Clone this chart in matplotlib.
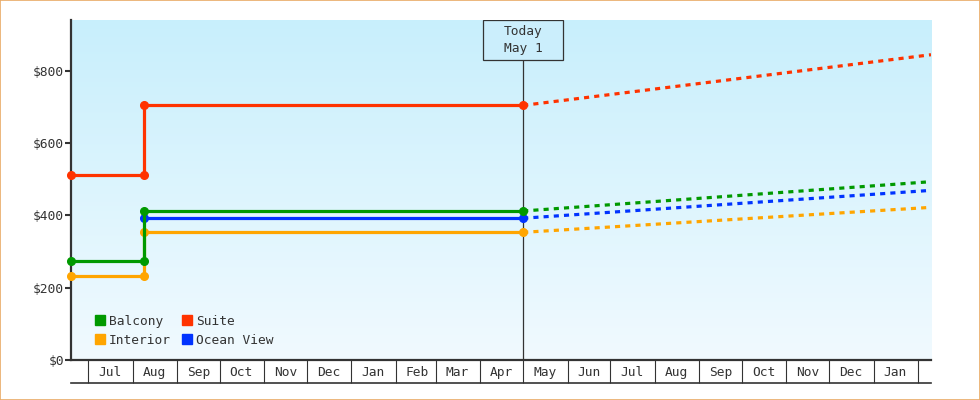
from datetime import date
import numpy as np
import matplotlib
matplotlib.use("Agg")
import matplotlib.pyplot as plt
import matplotlib.dates as mdates
from matplotlib.patches import Rectangle
from matplotlib.lines import Line2D

START = date(2024, 6, 19)
STEP = date(2024, 8, 9)
TODAY = date(2025, 5, 1)
END = date(2026, 2, 10)

hist_dates = [START, STEP, STEP, TODAY]
fc_dates = [TODAY, END]

names = ["Interior", "Ocean View", "Balcony", "Suite"]
colors = {"Balcony": "#009900", "Suite": "#ff3300", "Interior": "#ffa500", "Ocean View": "#0033ff"}
hist = {
    "Balcony": [273, 273, 412, 412],
    "Suite": [511, 511, 704, 704],
    "Interior": [231, 231, 353, 353],
    "Ocean View": [np.nan, np.nan, 392, 392],
}
fc_end = {"Balcony": 493, "Suite": 844, "Interior": 422, "Ocean View": 469}
legend_order = ["Balcony", "Interior", "Suite", "Ocean View"]
yticks = [0, 200, 400, 600, 800]

DARK = "#333333"
FONT = "DejaVu Sans Mono"
FS = 9.3
plt.rcParams["font.family"] = FONT

fig = plt.figure(figsize=(9.8, 4.0), dpi=100)
ax = fig.add_axes([71 / 980, 40 / 400, 860 / 980, 340 / 400])
fig.patches.append(Rectangle((0, 0), 1, 1, transform=fig.transFigure, fill=False,
                             edgecolor="#e9aa66", lw=1.2))

# gradient background
grad = np.linspace(0, 1, 256)[:, None]
top = np.array([200, 239, 252]) / 255
bot = np.array([241, 250, 255]) / 255
img = top[None, None, :] * (1 - grad[:, :, None]) + bot[None, None, :] * grad[:, :, None]
ax.imshow(img, extent=[0, 1, 0, 1], transform=ax.transAxes, aspect="auto", zorder=0)

for k in names:
    ax.plot(hist_dates, hist[k], color=colors[k], lw=2.3, marker="o", ms=5.5,
            zorder=3, clip_on=False)
    ax.plot(fc_dates, [hist[k][-1], fc_end[k]], color=colors[k], lw=2.3,
            ls=(0, (1.6, 1.6)), zorder=3)

ax.set_xlim(START, END)
ax.set_ylim(0, 940)

ax.axvline(TODAY, color=DARK, lw=0.9, zorder=2)
fx = (mdates.date2num(TODAY) - mdates.date2num(START)) / (mdates.date2num(END) - mdates.date2num(START))
bw, bh = 80 / 860, 40 / 340
ax.add_patch(Rectangle((fx - bw / 2, 1 - bh), bw, bh, transform=ax.transAxes,
                       facecolor="#cbeefc", edgecolor=DARK, lw=0.9, zorder=4))
ax.text(fx, 1 - bh / 2, "Today\nMay 1", transform=ax.transAxes, ha="center", va="center",
        fontsize=FS, color=DARK, linespacing=1.35, zorder=5)

for s in ["top", "right"]:
    ax.spines[s].set_visible(False)
for s in ["left", "bottom"]:
    ax.spines[s].set_color(DARK)
    ax.spines[s].set_linewidth(1.6)

ax.set_yticks(yticks)
ax.set_yticklabels([f"${v}" for v in yticks])
ax.tick_params(axis="y", length=4, width=1.5, color=DARK, labelsize=FS, labelcolor=DARK, pad=1)

ax.xaxis.set_major_locator(mdates.MonthLocator())
ax.xaxis.set_major_formatter(plt.NullFormatter())
ax.xaxis.set_minor_locator(mdates.MonthLocator(bymonthday=16))
ax.xaxis.set_minor_formatter(mdates.DateFormatter("%b"))
ax.tick_params(axis="x", which="major", length=16.5, width=0.8, color=DARK, direction="out")
ax.tick_params(axis="x", which="minor", length=0, labelsize=FS, labelcolor=DARK, pad=4)
ax.plot([0, 1], [-23 / 340, -23 / 340], transform=ax.transAxes, color=DARK, lw=1.2, clip_on=False)

handles = [Line2D([], [], ls="none", marker="s", ms=7.5, color=colors[k]) for k in legend_order]
ax.legend(handles, legend_order, loc="lower left", bbox_to_anchor=(0.022, 0.02), ncol=2,
          frameon=False, fontsize=FS, handlelength=0.6, handletextpad=0.35,
          columnspacing=1.0, labelspacing=0.45, borderpad=0, labelcolor=DARK)

fig.savefig("out.png", dpi=100)
